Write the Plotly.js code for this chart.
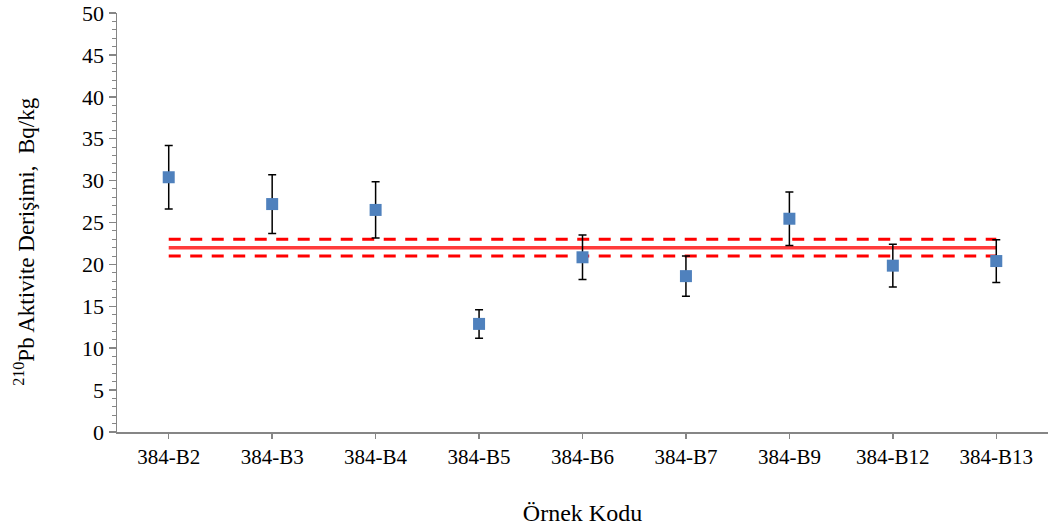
<!DOCTYPE html>
<html>
<head>
<meta charset="utf-8">
<script src="https://cdn.plot.ly/plotly-3.0.1.min.js"></script>
<style>html,body{margin:0;padding:0;background:#fff;}#chart{width:1048px;height:529px;}</style>
</head>
<body>
<div id="chart"></div>
<script>
const categories = ["384-B2","384-B3","384-B4","384-B5","384-B6","384-B7","384-B9","384-B12","384-B13"];
const activity = [30.4, 27.2, 26.5, 12.9, 20.85, 18.6, 25.45, 19.85, 20.4];
const uncertainty = [3.8, 3.5, 3.35, 1.7, 2.65, 2.4, 3.2, 2.55, 2.55];
const refValue = 22.0;
const refUncertainty = 1.0;
const xTitle = "Örnek Kodu";
const yTitle = "<sup>210</sup>Pb Aktivite Derişimi,  Bq/kg";

const ends = [categories[0], categories[categories.length - 1]];
const font = "Liberation Serif";

const traces = [
  {
    x: ends, y: [refValue, refValue], mode: "lines", type: "scatter",
    line: {color: "#FF3B3B", width: 3.5}, hoverinfo: "skip", showlegend: false
  },
  {
    x: ends, y: [refValue + refUncertainty, refValue + refUncertainty], mode: "lines", type: "scatter",
    line: {color: "#FF0000", width: 3, dash: "12px,9.5px"}, hoverinfo: "skip", showlegend: false
  },
  {
    x: ends, y: [refValue - refUncertainty, refValue - refUncertainty], mode: "lines", type: "scatter",
    line: {color: "#FF0000", width: 3, dash: "12px,9.5px"}, hoverinfo: "skip", showlegend: false
  },
  {
    x: categories, y: activity, mode: "markers", type: "scatter",
    marker: {symbol: "square", size: 12, color: "#4F81BD"},
    error_y: {type: "data", array: uncertainty, visible: true, color: "#000000", thickness: 1.5, width: 4},
    showlegend: false
  }
];

const layout = {
  width: 1048, height: 529,
  margin: {l: 117, r: 0, t: 13, b: 97},
  paper_bgcolor: "#ffffff", plot_bgcolor: "#ffffff",
  font: {family: font, size: 21, color: "#000000"},
  showlegend: false,
  xaxis: {
    type: "category", categoryorder: "array", categoryarray: categories, range: [-0.5, 8.5],
    showgrid: false, zeroline: false,
    showline: true, linecolor: "#868686", linewidth: 1.5,
    ticks: "outside", ticklen: 5, tickcolor: "#868686", tickwidth: 1.5,
    tickfont: {family: font, size: 21, color: "#000000"},
    title: {text: xTitle, font: {family: font, size: 24, color: "#000000"}, standoff: 36},
    automargin: false
  },
  yaxis: {
    range: [0, 50], dtick: 5, tick0: 0,
    showgrid: false, zeroline: false,
    showline: true, linecolor: "#868686", linewidth: 1.5,
    ticks: "outside", ticklen: 7, tickcolor: "#868686", tickwidth: 1.5,
    minor: {dtick: 1, ticks: "outside", ticklen: 4, tickcolor: "#868686", tickwidth: 1},
    tickfont: {family: font, size: 22, color: "#000000"},
    automargin: false
  },
  annotations: [{
    text: yTitle, textangle: -90, showarrow: false,
    xref: "paper", yref: "paper", x: -0.099, y: 0.456,
    xanchor: "center", yanchor: "middle",
    font: {family: font, size: 23, color: "#000000"}
  }]
};

Plotly.newPlot("chart", traces, layout, {staticPlot: true, displayModeBar: false});
</script>
</body>
</html>
